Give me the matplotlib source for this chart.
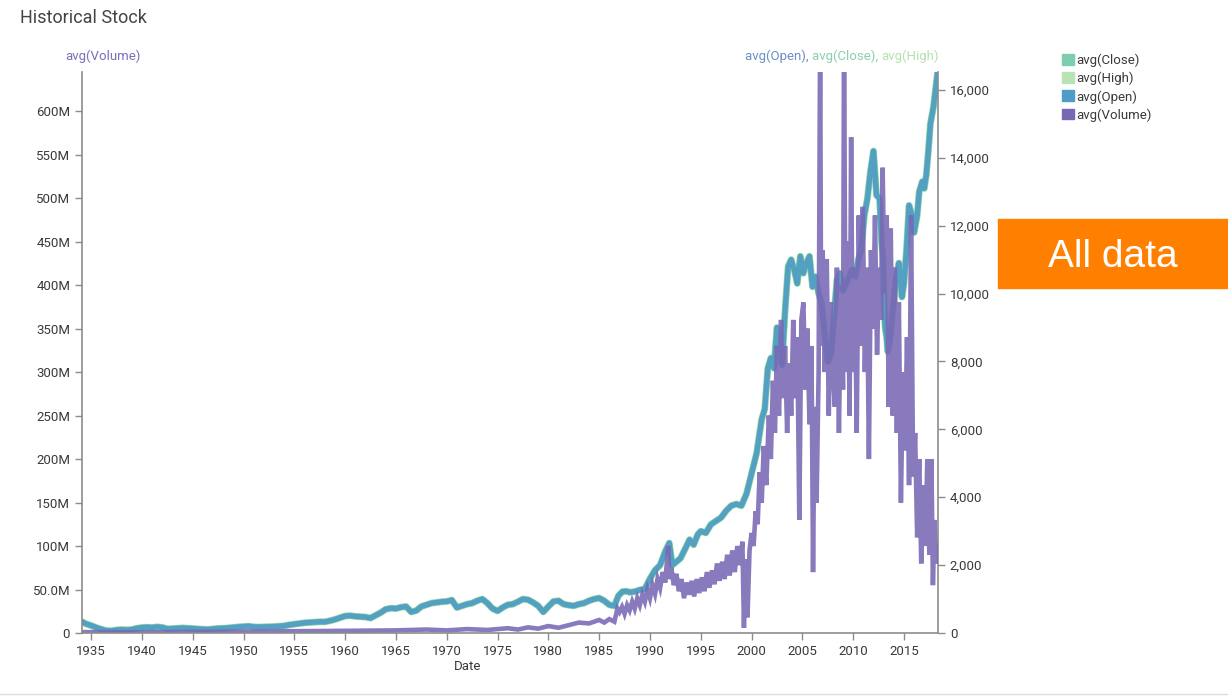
import matplotlib
matplotlib.use("Agg")
import matplotlib.pyplot as plt
from matplotlib.patches import Patch, Rectangle
from matplotlib.lines import Line2D

plt.rcParams["font.family"] = ["Roboto", "DejaVu Sans"]

# stock average (Open/Close/High overlap almost exactly), decimal years
stock_years = [
    1934.1, 1934.5, 1935.0, 1935.5, 1936.0, 1936.5, 1937.0, 1937.5, 1938.0, 1938.5,
    1939.0, 1939.5, 1940.0, 1940.5, 1941.0, 1941.5, 1942.0, 1942.5, 1943.0, 1943.5,
    1944.0, 1944.5, 1945.0, 1945.5, 1946.0, 1946.5, 1947.0, 1947.5, 1948.0, 1948.5,
    1949.0, 1949.5, 1950.0, 1950.5, 1951.0, 1951.5, 1952.0, 1952.5, 1953.0, 1953.5,
    1954.0, 1954.5, 1955.0, 1955.5, 1956.0, 1956.5, 1957.0, 1957.5, 1958.0, 1958.5,
    1959.0, 1959.5, 1960.0, 1960.5, 1961.0, 1961.5, 1962.0, 1962.5, 1963.0, 1963.5,
    1964.0, 1964.5, 1965.0, 1965.5, 1966.0, 1966.5, 1967.0, 1967.5, 1968.0, 1968.5,
    1969.0, 1969.5, 1970.0, 1970.5, 1971.0, 1971.5, 1972.0, 1972.5, 1973.0, 1973.5,
    1974.0, 1974.5, 1975.0, 1975.5, 1976.0, 1976.5, 1977.0, 1977.5, 1978.0, 1978.5,
    1979.0, 1979.5, 1980.0, 1980.5, 1981.0, 1981.5, 1982.0, 1982.5, 1983.0, 1983.5,
    1984.0, 1984.5, 1985.0, 1985.5, 1986.0, 1986.5, 1986.9, 1987.3, 1987.7, 1988.0,
    1988.5, 1989.0, 1989.5, 1990.0, 1990.5, 1991.0, 1991.5, 1991.9, 1992.2, 1992.6,
    1993.0, 1993.5, 1993.9, 1994.3, 1994.7, 1995.0, 1995.5, 1996.0, 1996.5, 1997.0,
    1997.5, 1998.0, 1998.5, 1999.0, 1999.5, 2000.0, 2000.5, 2001.0, 2001.3, 2001.6,
    2001.9, 2002.2, 2002.5, 2002.8, 2003.0, 2003.3, 2003.6, 2003.9, 2004.2, 2004.5,
    2004.8, 2005.1, 2005.4, 2005.7, 2006.0, 2006.3, 2006.6, 2006.9, 2007.2, 2007.5,
    2007.8, 2008.1, 2008.4, 2008.7, 2009.0, 2009.3, 2009.6, 2009.9, 2010.2, 2010.5,
    2010.8, 2011.1, 2011.4, 2011.7, 2012.0, 2012.3, 2012.6, 2012.8, 2012.95, 2013.05,
    2013.15, 2013.3, 2013.4, 2013.6, 2013.8, 2014.0, 2014.2, 2014.5, 2014.8, 2015.0,
    2015.25, 2015.5, 2015.8, 2016.0, 2016.3, 2016.5, 2016.8, 2017.0, 2017.2, 2017.4,
    2017.6, 2017.9, 2018.1, 2018.3,
]
stock_avg = [
    330, 270, 220, 160, 110, 70, 65, 90, 100, 90,
    100, 140, 160, 170, 160, 180, 165, 120, 130, 140,
    150, 140, 130, 120, 110, 105, 120, 135, 140, 150,
    165, 180, 190, 200, 180, 175, 180, 185, 190, 200,
    210, 240, 260, 280, 300, 310, 320, 330, 330, 360,
    400, 450, 500, 510, 490, 480, 470, 440, 520, 600,
    700, 730, 720, 760, 780, 620, 660, 780, 830, 880,
    900, 920, 930, 970, 750, 800, 850, 880, 950, 1000,
    880, 720, 650, 750, 830, 850, 920, 1000, 980, 900,
    800, 620, 780, 930, 950, 850, 820, 800, 850, 880,
    950, 1000, 1030, 950, 830, 800, 1100, 1220, 1230, 1200,
    1220, 1270, 1300, 1600, 1850, 2000, 2400, 2650, 2000, 2100,
    2200, 2500, 2750, 2600, 2900, 3000, 2950, 3200, 3300, 3400,
    3600, 3750, 3800, 3750, 4100, 4700, 5300, 6300, 6600, 7800,
    8100, 7800, 9000, 8600, 7900, 9500, 10800, 11000, 10700, 10300,
    11100, 10600, 10900, 11100, 10200, 10500, 10000, 9700, 8800, 8000,
    8200, 9300, 10400, 10600, 10100, 10300, 10500, 10700, 10500, 11000,
    11300, 12300, 12800, 13600, 14200, 12900, 12800, 11500, 11000, 9600,
    9000, 8700, 8300, 8600, 9200, 9800, 10400, 10900, 9900, 10300,
    11300, 12600, 12300, 11800, 12300, 13000, 13300, 13100, 13500, 14200,
    15000, 15500, 16000, 16500,
]

# volume in millions
vol_years = [
    1934.1, 1940.0, 1945.0, 1950.0, 1955.0, 1960.0, 1965.0, 1968.0, 1970.0, 1972.0,
    1974.0, 1976.0, 1977.0, 1978.0, 1979.0, 1980.0, 1981.0, 1982.0, 1983.0, 1984.0,
    1985.0, 1985.5, 1986.0, 1986.5, 1986.8, 1987.0, 1987.25, 1987.5, 1987.75, 1988.0,
    1988.25, 1988.5, 1988.75, 1989.0, 1989.25, 1989.5, 1989.75, 1990.0, 1990.25, 1990.5,
    1990.75, 1991.0, 1991.25, 1991.5, 1991.8, 1991.9, 1992.1, 1992.35, 1992.6, 1992.85,
    1993.1, 1993.35, 1993.6, 1993.85, 1994.1, 1994.35, 1994.6, 1994.85, 1995.1, 1995.35,
    1995.6, 1995.85, 1996.1, 1996.35, 1996.6, 1996.85, 1997.1, 1997.35, 1997.6, 1997.85,
    1998.1, 1998.35, 1998.6, 1998.85, 1999.1, 1999.25, 1999.4, 1999.6, 1999.8, 2000.0,
    2000.2, 2000.4, 2000.6, 2000.8, 2001.0, 2001.2, 2001.45, 2001.7, 2001.9, 2002.1,
    2002.3, 2002.5, 2002.7, 2002.9, 2003.1, 2003.3, 2003.5, 2003.7, 2003.9, 2004.1,
    2004.3, 2004.5, 2004.7, 2004.9, 2005.1, 2005.3, 2005.5, 2005.7, 2005.9, 2006.05,
    2006.2, 2006.4, 2006.6, 2006.75, 2006.85, 2007.0, 2007.2, 2007.4, 2007.6, 2007.8,
    2008.0, 2008.2, 2008.4, 2008.6, 2008.8, 2009.0, 2009.1, 2009.25, 2009.45, 2009.65,
    2009.8, 2009.95, 2010.15, 2010.35, 2010.55, 2010.75, 2010.95, 2011.15, 2011.35, 2011.55,
    2011.75, 2011.95, 2012.15, 2012.35, 2012.55, 2012.75, 2012.9, 2013.1, 2013.3, 2013.5,
    2013.7, 2013.9, 2014.1, 2014.3, 2014.5, 2014.7, 2014.9, 2015.1, 2015.3, 2015.5,
    2015.7, 2015.9, 2016.1, 2016.3, 2016.5, 2016.7, 2016.9, 2017.1, 2017.3, 2017.5,
    2017.7, 2017.85, 2018.0, 2018.15, 2018.3,
]
vol_millions = [
    1.0, 0.8, 1.2, 1.5, 2.0, 2.5, 3.0, 4.0, 3.0, 4.5,
    3.5, 5.5, 4.0, 6.5, 5.0, 8.0, 6.0, 9.0, 12.0, 11.0,
    15.0, 12.0, 16.0, 13.0, 28.0, 24.0, 30.0, 22.0, 32.0, 26.0,
    36.0, 28.0, 40.0, 32.0, 44.0, 36.0, 50.0, 40.0, 55.0, 45.0,
    62.0, 52.0, 70.0, 58.0, 100.0, 62.0, 75.0, 55.0, 68.0, 48.0,
    62.0, 40.0, 58.0, 44.0, 60.0, 42.0, 62.0, 46.0, 64.0, 48.0,
    70.0, 52.0, 72.0, 56.0, 80.0, 60.0, 82.0, 62.0, 90.0, 66.0,
    95.0, 70.0, 100.0, 78.0, 105.0, 6.0, 85.0, 18.0, 95.0, 115.0,
    100.0, 140.0, 125.0, 185.0, 150.0, 215.0, 170.0, 250.0, 200.0, 290.0,
    230.0, 330.0, 250.0, 360.0, 270.0, 330.0, 230.0, 310.0, 250.0, 360.0,
    270.0, 340.0, 130.0, 360.0, 380.0, 280.0, 350.0, 240.0, 330.0, 70.0,
    260.0, 150.0, 300.0, 700.0, 330.0, 440.0, 300.0, 430.0, 250.0, 380.0,
    300.0, 260.0, 420.0, 230.0, 400.0, 280.0, 700.0, 300.0, 450.0, 250.0,
    570.0, 300.0, 420.0, 230.0, 480.0, 330.0, 490.0, 300.0, 420.0, 200.0,
    440.0, 350.0, 480.0, 320.0, 420.0, 360.0, 535.0, 390.0, 480.0, 260.0,
    465.0, 250.0, 420.0, 230.0, 380.0, 150.0, 300.0, 210.0, 340.0, 170.0,
    480.0, 180.0, 230.0, 110.0, 200.0, 80.0, 170.0, 100.0, 200.0, 90.0,
    200.0, 55.0, 130.0, 80.0, 100.0,
]

vol_ticks = [0, 50, 100, 150, 200, 250, 300, 350, 400, 450, 500, 550, 600]
vol_tick_labels = ["0", "50.0M", "100M", "150M", "200M", "250M", "300M", "350M",
                   "400M", "450M", "500M", "550M", "600M"]
price_ticks = [0, 2000, 4000, 6000, 8000, 10000, 12000, 14000, 16000]
year_ticks = list(range(1935, 2020, 5))

c_close = "#7fcdaf"
c_high = "#b9e3b4"
c_open = "#4f9cc6"
c_vol = "#7868b4"
axis_gray = "#8c8c8c"
txt = "#3a3a3a"

fig = plt.figure(figsize=(12.28, 6.98), dpi=100)
ax = fig.add_axes([82 / 1228, 65 / 698, 856 / 1228, 561 / 698])
ax2 = ax.twinx()
ax.set_zorder(ax2.get_zorder() + 1)
ax.patch.set_visible(False)

ax2.plot(stock_years, stock_avg, color=c_high, lw=5.0, solid_joinstyle="round")
ax2.plot(stock_years, stock_avg, color=c_close, lw=4.4, solid_joinstyle="round")
ax2.plot(stock_years, stock_avg, color=c_open, lw=3.8, alpha=0.9, solid_joinstyle="round")
ax.plot(vol_years, vol_millions, color=c_vol, lw=3.3, alpha=0.88, solid_joinstyle="miter")

ax.set_xlim(1934.1, 2018.35)
ax.set_ylim(0, 645)
ax2.set_ylim(0, 16530)

ax.set_xticks(year_ticks)
ax.set_xticklabels([str(y) for y in year_ticks])
ax.set_yticks(vol_ticks)
ax.set_yticklabels(vol_tick_labels)
ax2.set_yticks(price_ticks)
ax2.set_yticklabels([f"{v:,}" for v in price_ticks])

for a in (ax, ax2):
    a.spines["top"].set_visible(False)
    for side in ("left", "right", "bottom"):
        a.spines[side].set_color(axis_gray)
        a.spines[side].set_linewidth(1.2)
    a.tick_params(colors=axis_gray, labelcolor=txt, labelsize=9.5, length=5, width=1)
ax.spines["right"].set_visible(False)
ax2.spines["left"].set_visible(False)
ax2.spines["bottom"].set_visible(False)

fig.text(468 / 1228, 1 - 666 / 698, "Date", ha="center", va="center", fontsize=9.5, color=txt)

fig.text(20 / 1228, 1 - 18 / 698, "Historical Stock", ha="left", va="center",
         fontsize=13, color="#444444")
fig.text(65 / 1228, 1 - 56 / 698, "avg(Volume)", ha="left", va="center",
         fontsize=9.5, color="#7b6db8")

# right axis title, coloured per series
t1 = fig.text(745 / 1228, 1 - 56 / 698, "avg(Open), ", ha="left", va="center",
              fontsize=9.5, color="#6b8fc4")
fig.canvas.draw()
r = fig.canvas.get_renderer()
bb = t1.get_window_extent(r)
t2 = fig.text(bb.x1 / 1228, 1 - 56 / 698, "avg(Close), ", ha="left", va="center",
              fontsize=9.5, color="#8ccfae")
bb = t2.get_window_extent(r)
fig.text(bb.x1 / 1228, 1 - 56 / 698, "avg(High)", ha="left", va="center",
         fontsize=9.5, color="#b5e0b0")

handles = [Patch(color=c_close), Patch(color=c_high), Patch(color=c_open), Patch(color=c_vol)]
fig.legend(handles, ["avg(Close)", "avg(High)", "avg(Open)", "avg(Volume)"],
           loc="upper left", bbox_to_anchor=(1062 / 1228, 1 - 54 / 698), frameon=False,
           fontsize=9.5, handlelength=0.9, handleheight=0.9, handletextpad=0.2,
           labelspacing=0.35, borderaxespad=0, borderpad=0, labelcolor=txt)

fig.patches.append(Rectangle((998 / 1228, 1 - 288 / 698), 230 / 1228, 69 / 698,
                             transform=fig.transFigure, color="#ff8000", zorder=5))
fig.text(1113 / 1228, 1 - 257 / 698, "All data", ha="center", va="center",
         fontsize=28, color="white", family=["Liberation Sans", "DejaVu Sans"], zorder=6)

fig.add_artist(Line2D([0, 1], [1 - 694 / 698, 1 - 694 / 698], transform=fig.transFigure,
                      color="#dddddd", lw=1))

fig.savefig("out.png", dpi=100)
